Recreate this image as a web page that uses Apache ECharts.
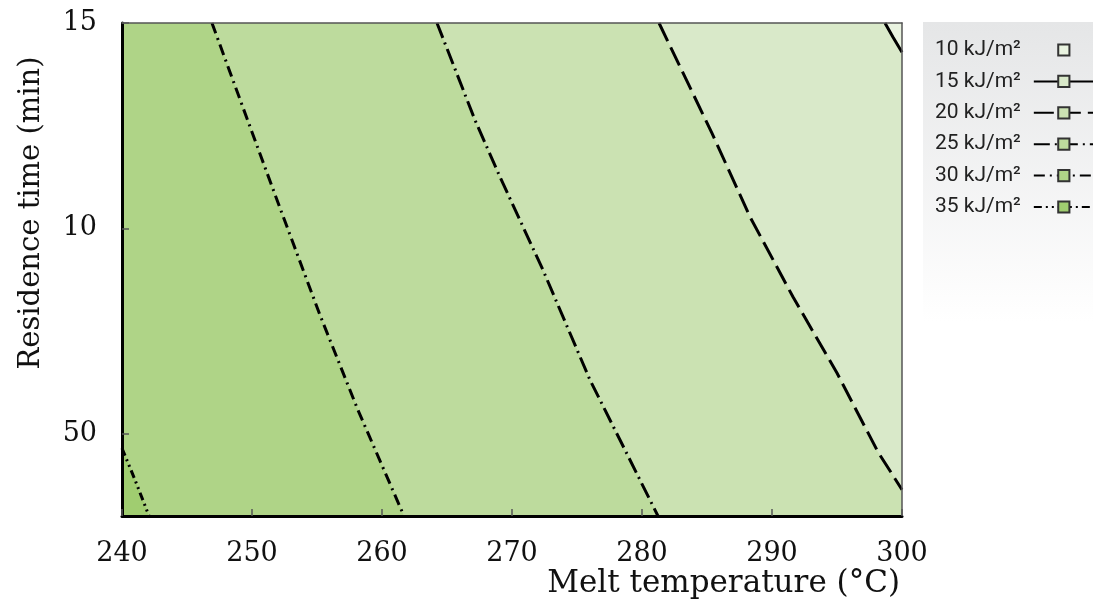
<!DOCTYPE html>
<html><head><meta charset="utf-8">
<script src="https://cdn.jsdelivr.net/npm/echarts@6/dist/echarts.min.js"></script>
<style>html,body{margin:0;padding:0;background:#fff}#c{width:1093px;height:611px}</style>
</head><body><div id="c"></div>
<script>
// Impact strength levels (legend) and region fills
const levels = ['10 kJ/m²','15 kJ/m²','20 kJ/m²','25 kJ/m²','30 kJ/m²','35 kJ/m²'];
const fillColors = ['#e9f3e0','#d9e9c9','#cbe2b2','#bddb9d','#afd487','#a0cd70'];
// axis ticks
const xTicks = [240,250,260,270,280,290,300];
const yTickValues = [5,10,15];
const yTickLabels = ['50','10','15'];
// contour lines: [melt temperature, residence time]
const contour15 = [[298.69,15],[299.3,14.66],[300,14.29]];
const contour20 = [[281.31,15],[285.38,12.32],[288.31,10.28],[291.62,8.33],[295.0,6.48],[298.15,4.56],[300,3.64]];
const contour25 = [[264.23,15],[267.15,12.64],[269.08,11.25],[272.38,8.99],[276.0,6.31],[278.31,4.85],[281.23,3.0]];
const contour30 = [[246.92,15],[250.62,11.81],[252.15,10.50],[255.23,7.89],[258.15,5.58],[261.69,3.0]];
const contour35 = [[240,4.65],[241.0,3.88],[242.08,3.0]];

const X_MIN = 240, X_MAX = 300, Y_MIN = 3, Y_MAX = 15;
const contours = [null, contour15, contour20, contour25, contour30, contour35];
const dashes = [null, 'solid', [20,7], [16,5,2,5], [11,5,2,5], [8,4,2,4,2,4]];

// regions drawn darkest first: base rect = 35 colour, then area right of each contour
const regionOrder = [5,4,3,2,1];
function renderRegion(params, api){
  const idx = api.value(0);
  let pts;
  if (idx === 6) {
    pts = [[X_MIN,Y_MIN],[X_MAX,Y_MIN],[X_MAX,Y_MAX],[X_MIN,Y_MAX]];
  } else {
    pts = contours[idx].concat([[X_MAX,Y_MIN],[X_MAX,Y_MAX],[X_MIN,Y_MAX]]);
  }
  const fill = idx === 6 ? fillColors[5] : fillColors[idx-1];
  return {
    type: 'polygon',
    shape: { points: pts.map(p => api.coord(p)) },
    style: { fill: fill, stroke: null }
  };
}

const lineSeries = levels.map((name, i) => ({
  name: name,
  type: 'line',
  data: i === 0 ? [] : contours[i],
  showSymbol: false,
  symbol: 'rect',
  symbolSize: 12,
  silent: true,
  z: 5,
  itemStyle: { color: fillColors[i], borderColor: '#333', borderWidth: 1 },
  lineStyle: i === 0 ? { width: 0, opacity: 0 } : { color: '#000', width: 3, type: dashes[i] },
  clip: true,
  animation: false
}));

const chart = echarts.init(document.getElementById('c'), null, { renderer: 'canvas' });
chart.setOption({
  animation: false,
  backgroundColor: '#fff',
  grid: { left: 122, top: 23, right: 191, bottom: 95 },
  graphic: [
    { type: 'rect', left: 923, top: 22, z: -10, shape: { width: 170, height: 300 },
      style: { fill: { type: 'linear', x: 0, y: 0, x2: 0, y2: 1,
        colorStops: [{ offset: 0, color: '#e5e6e7' }, { offset: 1, color: '#ffffff' }] } } },
    { type: 'text', x: 31, y: 213, rotation: Math.PI / 2, z: 10,
      style: { text: 'Residence time (min)', font: '29px "DejaVu Serif"', fill: '#111',
        textAlign: 'center', textVerticalAlign: 'middle' } }
  ],
  legend: {
    data: levels,
    orient: 'vertical',
    left: 930,
    top: 33,
    align: 'right',
    itemWidth: 60,
    itemHeight: 14,
    itemGap: 7.4,
    selectedMode: false,
    textStyle: { fontFamily: 'Roboto', fontSize: 21, color: '#222', lineHeight: 24, padding: [0, 8, 0, 0] }
  },
  xAxis: [{
    type: 'value', min: X_MIN, max: X_MAX, interval: 10, z: 10,
    name: 'Melt temperature (°C)', nameLocation: 'end', nameGap: -2,
    nameTextStyle: { fontFamily: 'DejaVu Serif', fontSize: 31, color: '#111', align: 'right', verticalAlign: 'top', padding: [52, 0, 0, 0] },
    axisLine: { show: true, lineStyle: { color: '#000', width: 3 } },
    axisTick: { show: true, inside: true, length: 7, lineStyle: { color: '#555', width: 1.5 } },
    axisLabel: { margin: 24, fontFamily: 'DejaVu Serif', fontSize: 27, color: '#111',
      formatter: v => xTicks.includes(v) ? String(v) : '' },
    splitLine: { show: false }
  }, {
    type: 'value', position: 'top', min: X_MIN, max: X_MAX, z: 10,
    axisLine: { show: true, onZero: false, lineStyle: { color: '#555', width: 1.5 } },
    axisTick: { show: false }, axisLabel: { show: false }, splitLine: { show: false }
  }],
  yAxis: [{
    type: 'value', min: Y_MIN, max: Y_MAX, z: 10,
    axisLine: { show: true, lineStyle: { color: '#000', width: 3 } },
    axisTick: { show: true, inside: true, length: 7, customValues: yTickValues, lineStyle: { color: '#555', width: 1.5 } },
    axisLabel: { margin: 25, fontFamily: 'DejaVu Serif', fontSize: 27, color: '#111', customValues: yTickValues,
      formatter: v => yTickLabels[yTickValues.indexOf(v)] },
    splitLine: { show: false }
  }, {
    type: 'value', position: 'right', min: Y_MIN, max: Y_MAX, z: 10,
    axisLine: { show: true, onZero: false, lineStyle: { color: '#555', width: 1.5 } },
    axisTick: { show: false }, axisLabel: { show: false }, splitLine: { show: false }
  }],
  series: [{
    name: 'regions',
    type: 'custom',
    silent: true,
    z: 1,
    clip: true,
    renderItem: renderRegion,
    data: [[6]].concat(regionOrder.map(i => [i])),
    encode: { x: -1, y: -1 }
  }].concat(lineSeries)
});
</script></body></html>
